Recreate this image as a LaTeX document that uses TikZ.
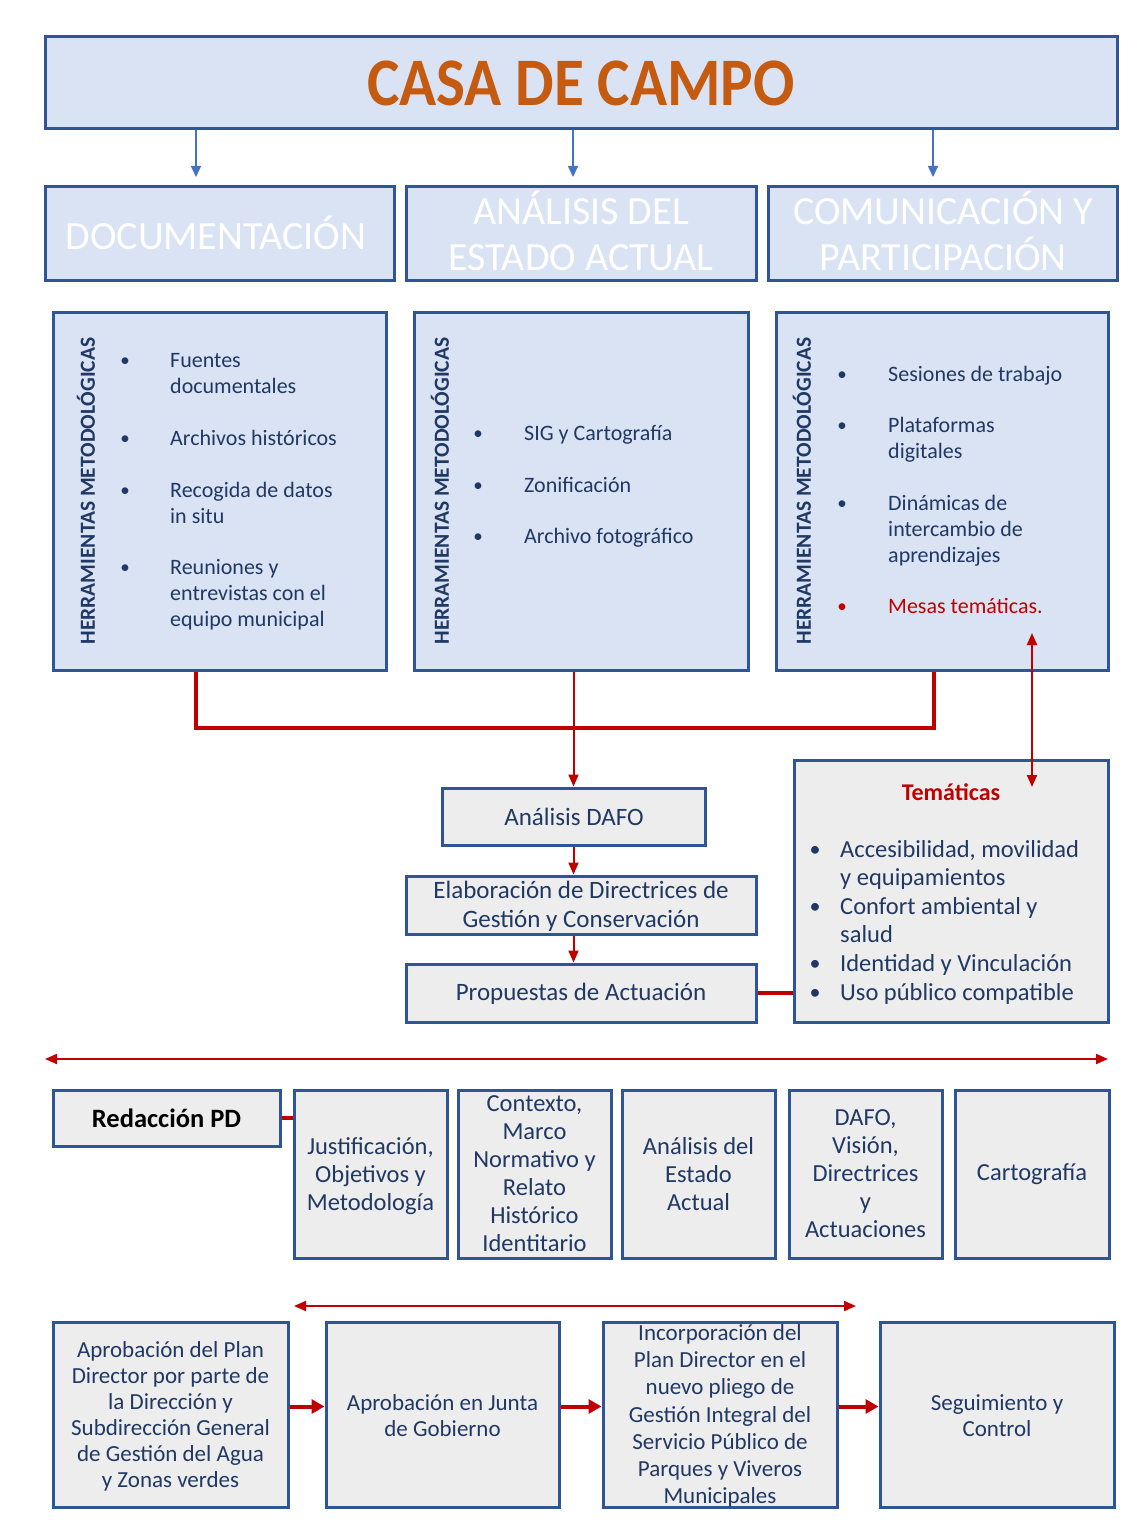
\documentclass[tikz,border=0pt]{standalone}
\usepackage{fontspec}
\setmainfont{Carlito}
\usetikzlibrary{arrows.meta,calc}
\definecolor{boxblue}{HTML}{DAE3F3}
\definecolor{edgeblue}{HTML}{2F5597}
\definecolor{boxgray}{HTML}{EDEDED}
\definecolor{navy}{HTML}{203864}
\definecolor{darkred}{HTML}{C00000}
\definecolor{orangeT}{HTML}{C55A11}
\definecolor{arrowblue}{HTML}{4472C4}
\begin{document}
\begin{tikzpicture}[x=1pt,y=-1pt,
  bluebox/.style={draw=edgeblue, line width=3pt, fill=boxblue, inner sep=0pt, rectangle},
  graybox/.style={draw=edgeblue, line width=3pt, fill=boxgray, inner sep=0pt, rectangle},
  headtxt/.style={text=white, font=\fontsize{40}{46}\selectfont, align=center},
  vlabel/.style={rotate=90, text=navy, font=\bfseries\fontsize{21.5}{24}\selectfont, inner sep=0pt},
  bul/.style={anchor=base, inner sep=0pt, text=navy, font=\fontsize{19}{26}\selectfont},
  item/.style={anchor=base west, inner sep=0pt, align=flush left, text width=230pt, text=navy, font=\fontsize{22}{26}\selectfont},
  titem/.style={anchor=base west, inner sep=0pt, align=flush left, text width=270pt, text=navy, font=\fontsize{24.5}{28.5}\selectfont},
  mtxt/.style={text=navy, align=center, font=\fontsize{25}{29}\selectfont},
  ltxt/.style={text=navy, align=center, font=\fontsize{24.5}{28}\selectfont},
  btxt/.style={text=navy, align=center, font=\fontsize{23}{26}\selectfont},
  bluearr/.style={draw=arrowblue, line width=1.6pt, -{Triangle[length=11pt,width=10pt]}},
  redthick/.style={draw=darkred, line width=4pt},
  redarr/.style={draw=darkred, line width=2pt, -{Triangle[length=12pt,width=10pt]}},
  reddbl/.style={draw=darkred, line width=2pt, {Triangle[length=12pt,width=10pt]}-{Triangle[length=12pt,width=10pt]}},
  redfat/.style={draw=darkred, line width=4pt, -{Triangle[length=13pt,width=14pt]}}
]
\useasboundingbox[fill=white] (0,0) rectangle (1141,1533);

% title
\node[bluebox, minimum width=1072pt, minimum height=92pt] (title) at (581,83)
  {\textcolor{orangeT}{\bfseries\fontsize{68}{70}\selectfont\scalebox{0.9}[1]{CASA DE CAMPO}}};

% headers
\node[bluebox, minimum width=349pt, minimum height=93pt] (h1) at (219.5,233.5) {};
\node[bluebox, minimum width=350pt, minimum height=93pt] (h2) at (581,233.5) {};
\node[bluebox, minimum width=349pt, minimum height=93pt] (h3) at (942.5,233.5) {};
\node[headtxt] (h1t) at (216,233) {DOCUMENTACIÓN};
\node[headtxt] (h2t) at (581,231) {ANÁLISIS DEL\\ESTADO ACTUAL};
\node[headtxt] (h3t) at (943,231) {COMUNICACIÓN Y\\PARTICIPACIÓN};

\coordinate (ba1) at (196,177);
\coordinate (ba2) at (573,177);
\coordinate (ba3) at (933,177);
\draw[bluearr] (ba1 |- title.south) -- (ba1);
\draw[bluearr] (ba2 |- title.south) -- (ba2);
\draw[bluearr] (ba3 |- title.south) -- (ba3);

% tool boxes
\node[bluebox, minimum width=333pt, minimum height=358pt] (tb1) at (219.5,491) {};
\node[bluebox, minimum width=334pt, minimum height=358pt] (tb2) at (581,491) {};
\node[bluebox, minimum width=332pt, minimum height=358pt] (tb3) at (942,491) {};
\node[vlabel] (v1) at (86,491) {HERRAMIENTAS METODOLÓGICAS};
\node[vlabel] (v2) at (440,491) {HERRAMIENTAS METODOLÓGICAS};
\node[vlabel] (v3) at (802,491) {HERRAMIENTAS METODOLÓGICAS};

% box 1 items
\node[bul] (b11) at (125,366) {•};
\node[item] (i11) at (170,367) {Fuentes\\documentales};
\node[bul] (b12) at (125,444) {•};
\node[item] (i12) at (170,445) {Archivos históricos};
\node[bul] (b13) at (125,496) {•};
\node[item] (i13) at (170,497) {Recogida de datos\\in situ};
\node[bul] (b14) at (125,573) {•};
\node[item] (i14) at (170,574) {Reuniones y\\entrevistas con el\\equipo municipal};
% box 2 items
\node[bul] (b21) at (478,439) {•};
\node[item] (i21) at (524,440) {SIG y Cartografía};
\node[bul] (b22) at (478,491) {•};
\node[item] (i22) at (524,492) {Zonificación};
\node[bul] (b23) at (478,542) {•};
\node[item] (i23) at (524,543) {Archivo fotográfico};
% box 3 items
\node[bul] (b31) at (842,380) {•};
\node[item] (i31) at (888,381) {Sesiones de trabajo};
\node[bul] (b32) at (842,431) {•};
\node[item] (i32) at (888,432) {Plataformas\\digitales};
\node[bul] (b33) at (842,509) {•};
\node[item] (i33) at (888,510) {Dinámicas de\\intercambio de\\aprendizajes};
\node[bul, text=darkred] (b34) at (842,612) {•};
\node[item, text=darkred] (i34) at (888,613) {Mesas temáticas.};

% middle boxes
\node[graybox, minimum width=263pt, minimum height=57pt] (dafo) at (573.5,816.5) {};
\node[mtxt] (dafot) at (574,817) {Análisis DAFO};
\node[graybox, minimum width=350pt, minimum height=58pt] (elab) at (581,905) {};
\node[mtxt] (elabt) at (581,906) {Elaboración de Directrices de\\Gestión y Conservación};
\node[graybox, minimum width=350pt, minimum height=58pt] (prop) at (581,993) {};
\node[mtxt] (propt) at (581,994) {Propuestas de Actuación};
\node[graybox, minimum width=314pt, minimum height=262pt] (tem) at (951,891) {};
\node[text=darkred, font=\bfseries\fontsize{24}{26}\selectfont] (temt) at (951,792) {Temáticas};
\node[bul, font=\fontsize{22}{28}\selectfont] (t1b) at (815,856) {•};
\node[titem] (t1) at (840,857) {Accesibilidad, movilidad\\y equipamientos};
\node[bul, font=\fontsize{22}{28}\selectfont] (t2b) at (815,913) {•};
\node[titem] (t2) at (840,914) {Confort ambiental y\\salud};
\node[bul, font=\fontsize{22}{28}\selectfont] (t3b) at (815,970) {•};
\node[titem] (t3) at (840,971) {Identidad y Vinculación};
\node[bul, font=\fontsize{22}{28}\selectfont] (t4b) at (815,999) {•};
\node[titem] (t4) at (840,1000) {Uso público compatible};

% red connectors
\coordinate (jx1) at (196,728);
\coordinate (jx3) at (934,728);
\draw[redthick] (jx1 |- tb1.south) -- (jx1) -- (jx3) -- (jx3 |- tb3.south);
\draw[redarr] (dafo.north |- tb2.south) -- (dafo.north);
\draw[redarr] (dafo.south) -- (dafo.south |- elab.north);
\draw[redarr] (dafo.south |- elab.south) -- (dafo.south |- prop.north);
\draw[redthick, line width=3.5pt] (prop.east) -- (prop.east -| tem.west);
\coordinate (m1) at (1032,633);
\coordinate (m2) at (1032,787);
\draw[reddbl] (m1) -- (m2);

% redaction row
\coordinate (hl) at (45,1059);
\coordinate (hr) at (1108,1059);
\draw[reddbl] (hl) -- (hr);
\node[graybox, minimum width=227pt, minimum height=56pt] (red) at (166.5,1118) {};
\node[font=\bfseries\fontsize{26.5}{28}\selectfont] (redt) at (166.5,1118) {Redacción PD};
\node[graybox, minimum width=153pt, minimum height=168pt] (ca) at (370.5,1174) {};
\node[graybox, minimum width=153pt, minimum height=168pt] (cb) at (534.5,1174) {};
\node[graybox, minimum width=153pt, minimum height=168pt] (cc) at (698.5,1174) {};
\node[graybox, minimum width=153pt, minimum height=168pt] (cd) at (865.5,1174) {};
\node[graybox, minimum width=154pt, minimum height=168pt] (ce) at (1032,1174) {};
\node[ltxt] (cat) at (370.5,1176) {Justificación,\\Objetivos y\\Metodología};
\node[ltxt] (cbt) at (534.5,1174) {Contexto,\\Marco\\Normativo y\\Relato\\Histórico\\Identitario};
\node[ltxt] (cct) at (698.5,1174) {Análisis del\\Estado\\Actual};
\node[ltxt] (cdt) at (865.5,1174) {DAFO,\\Visión,\\Directrices\\y\\Actuaciones};
\node[ltxt] (cet) at (1032,1174) {Cartografía};
\draw[redthick, line width=3.5pt] (red.east) -- (red.east -| ca.west);

% bottom row
\coordinate (bl) at (294,1306);
\coordinate (br) at (856,1306);
\draw[reddbl] (bl) -- (br);
\node[graybox, minimum width=235pt, minimum height=185pt] (p1) at (170.5,1414.5) {};
\node[graybox, minimum width=233pt, minimum height=185pt] (p2) at (442.5,1414.5) {};
\node[graybox, minimum width=234pt, minimum height=185pt] (p3) at (720,1414.5) {};
\node[graybox, minimum width=234pt, minimum height=185pt] (p4) at (997,1414.5) {};
\node[btxt] (p1t) at (170.5,1416) {Aprobación del Plan\\Director por parte de\\la Dirección y\\Subdirección General\\de Gestión del Agua\\y Zonas verdes};
\node[btxt] (p2t) at (442.5,1416) {Aprobación en Junta\\de Gobierno};
\node[btxt, font=\fontsize{23}{27.2}\selectfont] (p3t) at (720,1416) {Incorporación del\\Plan Director en el\\nuevo pliego de\\Gestión Integral del\\Servicio Público de\\Parques y Viveros\\Municipales};
\node[btxt] (p4t) at (997,1416) {Seguimiento y\\Control};
\draw[redfat] ([yshift=8pt]p1.east) -- ([yshift=8pt]p2.west);
\draw[redfat] ([yshift=8pt]p2.east) -- ([yshift=8pt]p3.west);
\draw[redfat] ([yshift=8pt]p3.east) -- ([yshift=8pt]p4.west);
\end{tikzpicture}
\end{document}
